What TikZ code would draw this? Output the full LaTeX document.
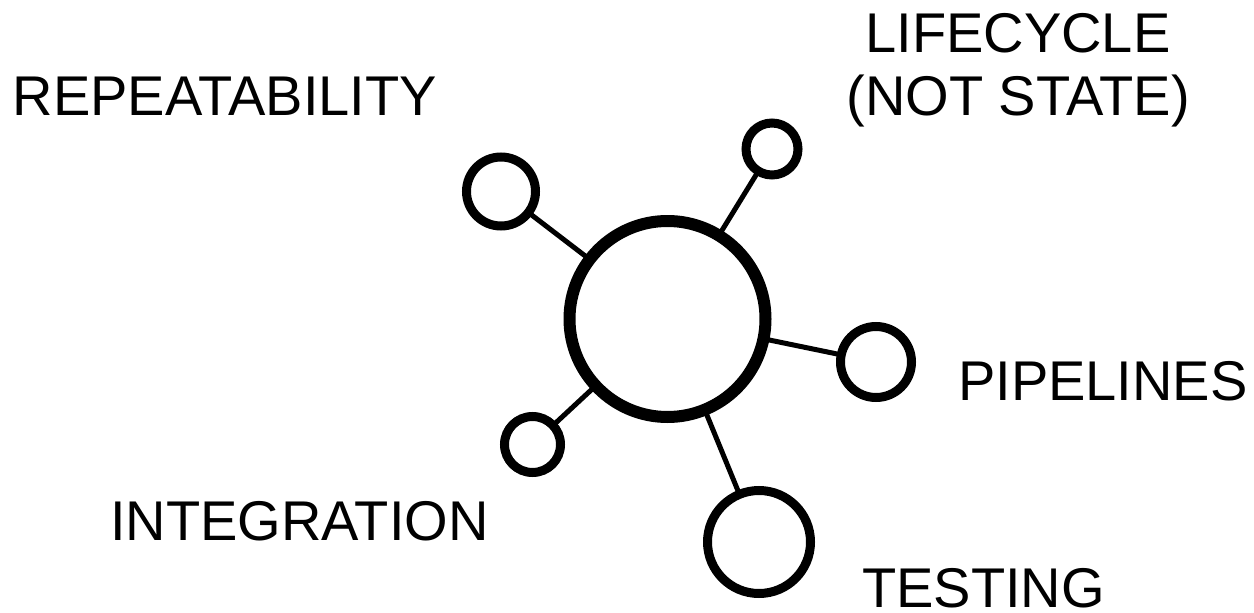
\documentclass[tikz,border=0pt]{standalone}
\usepackage{fontspec}
\setmainfont{Liberation Sans}
\begin{document}
\begin{tikzpicture}[x=1pt,y=-1pt,
  hub/.style={circle,draw=black,fill=white,line width=12pt,inner sep=0pt,minimum size=196pt},
  leaf/.style={circle,draw=black,fill=white,line width=9pt,inner sep=0pt},
  spoke/.style={draw=black,line width=5pt},
  lbl/.style={inner sep=0pt,font=\fontsize{56}{63}\selectfont,text=black}]
\useasboundingbox (0,0) rectangle (1254,613);
% spokes drawn first (behind circles)
\coordinate (cc) at (667.5,319);
\coordinate (cul) at (501,191.5);
\coordinate (ctr) at (772,149);
\coordinate (cr) at (876,362);
\coordinate (cll) at (532.5,444.5);
\coordinate (cb) at (759,542);
\draw[spoke] (cc) -- (cul);
\draw[spoke] (cc) -- (ctr);
\draw[spoke] (cc) -- (cr);
\draw[spoke] (cc) -- (cll);
\draw[spoke] (cc) -- (cb);
\node[hub] (c) at (cc) {};
\node[leaf,minimum size=69pt] (ul) at (cul) {};
\node[leaf,minimum size=52pt] (tr) at (ctr) {};
\node[leaf,minimum size=71pt] (r) at (cr) {};
\node[leaf,minimum size=56pt] (ll) at (cll) {};
\node[leaf,minimum size=103pt] (b) at (cb) {};
\node[lbl,anchor=base west] (rep) at (12.5,115) {REPEATABILITY};
\node[lbl,anchor=base,align=center] (life) at (1018,115) {LIFECYCLE\\(NOT STATE)};
\node[lbl,anchor=base west] (pipe) at (958,400) {PIPELINES};
\node[lbl,anchor=base west] (integ) at (110,540) {INTEGRATION};
\node[lbl,anchor=base west] (test) at (862,607) {TESTING};
\end{tikzpicture}
\end{document}
